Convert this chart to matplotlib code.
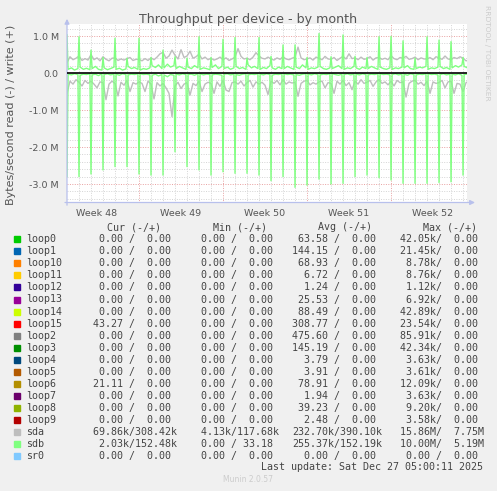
import numpy as np
import matplotlib
matplotlib.use("Agg")
import matplotlib.pyplot as plt
from matplotlib.patches import Rectangle

# sda, 4 samples per day (MB/s), write up / read down
sda_write = [
    0.28, 0.44, 0.36, 0.40,  0.46, 0.34, 0.39, 0.35,  0.50, 0.36, 0.41, 0.33,
    0.44, 0.37, 0.33, 0.40,  0.41, 0.34, 0.38, 0.35,  0.39, 0.42, 0.34, 0.37,
    0.37, 0.33, 0.39, 0.34,  0.41, 0.36, 0.43, 0.52,  0.56, 0.40, 0.46, 0.62,
    0.48, 0.38, 0.63, 0.42,  0.46, 0.59, 0.40, 0.44,  0.51, 0.38, 0.43, 0.36,
    0.40, 0.35, 0.38, 0.43,  0.36, 0.41, 0.34, 0.38,  0.43, 0.66, 0.45, 0.38,
    0.40, 0.36, 0.43, 0.55,  0.46, 0.40, 0.38, 0.43,  0.38, 0.35, 0.41, 0.37,
    0.44, 0.38, 0.36, 0.40,  0.43, 0.70, 0.41, 0.36,  0.38, 0.41, 0.35, 0.43,
    0.40, 0.36, 0.45, 0.38,  0.37, 0.42, 0.34, 0.40,  0.45, 0.38, 0.52, 0.39,
    0.41, 0.36, 0.43, 0.37,  0.39, 0.44, 0.35, 0.41,  0.42, 0.37, 0.40, 0.36,
    0.47, 0.39, 0.36, 0.42,  0.40, 0.45, 0.37, 0.39,  0.43, 0.36, 0.41, 0.38,
    0.38, 0.42, 0.36, 0.44,  0.41, 0.37, 0.46, 0.38,  0.36, 0.42, 0.39, 0.44,
    0.40, 0.33, 0.35, 0.36,
]
sda_read = [
    0.55, 0.22, 0.30, 0.18,  0.25, 0.35, 0.20, 0.28,  0.22, 0.30, 0.40, 0.24,
    0.26, 0.72, 0.30, 0.22,  0.28, 0.62, 0.25, 0.33,  0.20, 0.50, 0.26, 0.30,
    0.24, 0.28, 0.50, 0.22,  0.30, 0.70, 0.26, 0.35,  0.28, 0.40, 0.55, 1.18,
    0.35, 0.25, 0.42, 0.30,  0.26, 0.60, 0.28, 0.34,  0.22, 0.50, 0.30, 0.25,
    0.28, 0.55, 0.24, 0.36,  0.20, 0.46, 0.50, 0.26,  0.24, 0.30, 0.22, 0.35,
    0.26, 0.20, 0.38, 0.24,  0.30, 0.25, 0.33, 0.58,  0.22, 0.28, 0.20, 0.32,
    0.18, 0.30, 0.24, 0.27,  0.25, 0.63, 0.28, 0.22,  0.20, 0.32, 0.26, 0.30,
    0.24, 0.22, 0.40, 0.26,  0.28, 0.55, 0.22, 0.30,  0.20, 0.34, 0.26, 0.45,
    0.22, 0.30, 0.18, 0.28,  0.25, 0.20, 0.36, 0.24,  0.18, 0.28, 0.24, 0.32,
    0.22, 0.35, 0.20, 0.26,  0.24, 0.65, 0.28, 0.22,  0.20, 0.30, 0.25, 0.34,
    0.22, 0.55, 0.24, 0.28,  0.26, 0.20, 0.40, 0.24,  0.22, 0.55, 0.28, 0.30,
    0.50, 0.26, 0.22, 0.25,
]

# sdb: one daily spike plus 4 quieter samples per day
sdb_spike_write = [1.03, 0.98, 0.62, 0.42, 0.94, 0.40, 0.94, 0.42, 0.62, 0.44,
                   0.40, 0.98, 0.42, 0.91, 0.96, 0.40, 0.96, 0.45, 0.76, 0.76,
                   0.42, 1.07, 0.44, 1.03, 0.45, 0.42, 0.98, 0.99, 0.87, 0.40,
                   0.98, 0.89, 0.85, 0.42]
sdb_spike_read = [2.80, 2.80, 2.73, 2.62, 2.53, 2.53, 2.73, 2.76, 2.76, 2.13,
                  2.53, 2.62, 2.76, 2.67, 2.71, 2.71, 2.76, 2.91, 2.80, 3.09,
                  3.03, 2.87, 3.00, 2.98, 2.80, 2.76, 2.83, 2.89, 2.98, 2.98,
                  2.98, 2.96, 2.94, 2.76]
sdb_write = [
    0.10, 0.14, 0.08, 0.12,  0.16, 0.10, 0.13, 0.09,  0.12, 0.18, 0.10, 0.08,
    0.14, 0.09, 0.12, 0.16,  0.10, 0.13, 0.08, 0.11,  0.18, 0.12, 0.15, 0.10,
    0.08, 0.12, 0.10, 0.14,  0.20, 0.15, 0.22, 0.12,  0.14, 0.24, 0.16, 0.20,
    0.12, 0.18, 0.14, 0.10,  0.16, 0.12, 0.20, 0.14,  0.10, 0.14, 0.12, 0.09,
    0.15, 0.22, 0.12, 0.18,  0.12, 0.16, 0.10, 0.14,  0.18, 0.12, 0.15, 0.10,
    0.22, 0.14, 0.18, 0.12,  0.10, 0.15, 0.12, 0.20,  0.14, 0.10, 0.16, 0.12,
    0.12, 0.18, 0.14, 0.10,  0.16, 0.12, 0.22, 0.14,  0.10, 0.14, 0.12, 0.16,
    0.18, 0.12, 0.10, 0.14,  0.12, 0.16, 0.20, 0.12,  0.10, 0.14, 0.12, 0.18,
    0.14, 0.10, 0.16, 0.12,  0.12, 0.18, 0.14, 0.10,  0.16, 0.12, 0.10, 0.14,
    0.10, 0.14, 0.12, 0.16,  0.14, 0.20, 0.12, 0.10,  0.12, 0.16, 0.14, 0.18,
    0.10, 0.14, 0.12, 0.16,  0.18, 0.12, 0.15, 0.10,  0.14, 0.20, 0.16, 0.22,
    0.18, 0.14, 0.12, 0.16,
]
sdb_read = [
    0.03, 0.05, 0.02, 0.04,  0.06, 0.03, 0.04, 0.02,  0.05, 0.03, 0.07, 0.02,
    0.04, 0.02, 0.05, 0.03,  0.03, 0.06, 0.02, 0.04,  0.05, 0.03, 0.04, 0.02,
    0.02, 0.04, 0.03, 0.05,  0.06, 0.03, 0.08, 0.04,  0.05, 0.10, 0.04, 0.06,
    0.03, 0.05, 0.02, 0.04,  0.04, 0.03, 0.06, 0.02,  0.02, 0.05, 0.03, 0.04,
    0.05, 0.03, 0.04, 0.06,  0.03, 0.02, 0.05, 0.03,  0.04, 0.06, 0.03, 0.02,
    0.05, 0.03, 0.04, 0.02,  0.03, 0.05, 0.02, 0.04,  0.06, 0.03, 0.04, 0.02,
    0.02, 0.04, 0.03, 0.05,  0.04, 0.06, 0.03, 0.02,  0.03, 0.05, 0.02, 0.04,
    0.05, 0.03, 0.04, 0.02,  0.02, 0.04, 0.06, 0.03,  0.04, 0.02, 0.05, 0.03,
    0.03, 0.05, 0.02, 0.04,  0.05, 0.03, 0.04, 0.02,  0.02, 0.04, 0.03, 0.05,
    0.04, 0.02, 0.05, 0.03,  0.03, 0.06, 0.02, 0.04,  0.05, 0.03, 0.04, 0.02,
    0.02, 0.04, 0.03, 0.05,  0.04, 0.02, 0.05, 0.03,  0.03, 0.05, 0.02, 0.06,
    0.04, 0.03, 0.02, 0.04,
]

week_labels = ["Week 48", "Week 49", "Week 50", "Week 51", "Week 52"]
week_starts = [6, 13, 20, 27]
y_ticks = [1.0, 0.0, -1.0, -2.0, -3.0]
y_ticklabels = ["1.0 M", "0.0", "-1.0 M", "-2.0 M", "-3.0 M"]

names = ["loop0", "loop1", "loop10", "loop11", "loop12", "loop13", "loop14",
         "loop15", "loop2", "loop3", "loop4", "loop5", "loop6", "loop7",
         "loop8", "loop9", "sda", "sdb", "sr0"]
colors = ["#00CC00", "#0066B3", "#FF8000", "#FFCC00", "#330099", "#990099",
          "#CCFF00", "#FF0000", "#808080", "#008F00", "#00487D", "#B35A00",
          "#B38F00", "#6B006B", "#8FB300", "#B30000", "#BEBEBE", "#80FF80",
          "#80C9FF"]
zero = "  0.00 /  0.00 "
cur_vals = [zero] * 7 + [" 43.27 /  0.00 "] + [zero] * 4 + [" 21.11 /  0.00 "] + \
    [zero] * 3 + [" 69.86k/308.42k", "  2.03k/152.48k", zero]
min_vals = [zero] * 16 + ["  4.13k/117.68k", "  0.00 / 33.18 ", zero]
avg_vals = [" 63.58 /  0.00 ", "144.15 /  0.00 ", " 68.93 /  0.00 ",
            "  6.72 /  0.00 ", "  1.24 /  0.00 ", " 25.53 /  0.00 ",
            " 88.49 /  0.00 ", "308.77 /  0.00 ", "475.60 /  0.00 ",
            "145.19 /  0.00 ", "  3.79 /  0.00 ", "  3.91 /  0.00 ",
            " 78.91 /  0.00 ", "  1.94 /  0.00 ", " 39.23 /  0.00 ",
            "  2.48 /  0.00 ", "232.70k/390.10k", "255.37k/152.19k", zero]
max_vals = [" 42.05k/  0.00 ", " 21.45k/  0.00 ", "  8.78k/  0.00 ",
            "  8.76k/  0.00 ", "  1.12k/  0.00 ", "  6.92k/  0.00 ",
            " 42.89k/  0.00 ", " 23.54k/  0.00 ", " 85.91k/  0.00 ",
            " 42.34k/  0.00 ", "  3.63k/  0.00 ", "  3.61k/  0.00 ",
            " 12.09k/  0.00 ", "  3.63k/  0.00 ", "  9.20k/  0.00 ",
            "  3.58k/  0.00 ", " 15.86M/  7.75M", " 10.00M/  5.19M", zero]

W, H = 497, 491


def fx(x):
    return x / W


def fy(y):
    return 1 - y / H


fig = plt.figure(figsize=(W / 100, H / 100), dpi=100, facecolor="#F0F0F0")
ax = fig.add_axes([fx(67), fy(202.5), 400 / W, 178.3 / H])
ax.set_facecolor("white")
ax.set_xlim(0, 33.33)
ax.set_ylim(-3.5, 1.32)

# grid
dot = (0, (1, 1.5))
for d in range(1, 34):
    if d in week_starts:
        ax.axvline(d, color="#E8A0A0", lw=0.7, ls=dot, zorder=1)
    else:
        ax.axvline(d, color="#D4D4D4", lw=0.7, ls=dot, zorder=1)
for k in range(-17, 7):
    v = k * 0.2
    if k % 5 == 0:
        if k != 0:
            ax.axhline(v, color="#E8A0A0", lw=0.7, ls=dot, zorder=1)
    else:
        ax.axhline(v, color="#D4D4D4", lw=0.7, ls=dot, zorder=1)

# sda
t_sda = np.arange(len(sda_write)) * 0.25
ax.plot(t_sda, sda_write, color="#BEBEBE", lw=1.0, zorder=2)
ax.plot(t_sda, -np.array(sda_read), color="#BEBEBE", lw=1.0, zorder=2)

# sdb
n_days = len(sdb_spike_write)
t_sdb = (np.arange(n_days)[:, None] + np.array([0.0, 0.09, 0.37, 0.62, 0.91])).ravel()
w = np.hstack([np.array(sdb_spike_write)[:, None],
               np.array(sdb_write).reshape(n_days, 4)]).ravel()
r = np.hstack([np.array(sdb_spike_read)[:, None],
               np.array(sdb_read).reshape(n_days, 4)]).ravel()
ax.plot(t_sdb, w, color="#80FF80", lw=1.0, zorder=3)
ax.plot(t_sdb, -r, color="#80FF80", lw=1.0, zorder=3)

ax.axhline(0, color="black", lw=1.2, zorder=4)

# axes
for s in ax.spines.values():
    s.set_visible(False)
ax.tick_params(length=0, labelsize=6.8, labelcolor="#555555")
ax.set_yticks(y_ticks)
ax.set_yticklabels(y_ticklabels)
ax.tick_params(axis="y", pad=6)
ax.set_xticks([w0 - 3.5 for w0 in week_starts] + [30.5])
ax.set_xticklabels(week_labels)
ax.tick_params(axis="x", pad=5)
arrow = dict(arrowstyle="-|>", color="#B8C0EC", lw=0.9, mutation_scale=7,
             shrinkA=0, shrinkB=0)
ax.annotate("", xy=(0, 1.03), xytext=(0, -0.015), xycoords="axes fraction",
            arrowprops=arrow, annotation_clip=False)
ax.annotate("", xy=(1.02, 0), xytext=(-0.005, 0), xycoords="axes fraction",
            arrowprops=arrow, annotation_clip=False)

# texts
fig.text(fx(248.5), fy(19), "Throughput per device - by month", ha="center",
         va="center", fontsize=9.1, color="#555555")
fig.text(fx(11), fy(115), "Bytes/second read (-) / write (+)", rotation=90,
         ha="center", va="center", fontsize=8, color="#555555")
fig.text(fx(487), fy(53), "RRDTOOL / TOBI OETIKER", rotation=270,
         ha="center", va="center", fontsize=5.4, color="#CCCCCC")
fig.text(fx(248), fy(479), "Munin 2.0.57", ha="center", va="center",
         fontsize=5.5, color="#CCCCCC")

mono = dict(family="DejaVu Sans Mono", fontsize=7.2, color="#444444", va="center")
header_x = [107, 213, 318, 423]
for x, h in zip(header_x, ["Cur (-/+)", "Min (-/+)", "Avg (-/+)", "Max (-/+)"]):
    fig.text(fx(x), fy(227.5), h, **mono)

col_x = [87, 189, 292, 394]
for i, name in enumerate(names):
    y = 239.3 + 12.04 * i
    fig.patches.append(Rectangle((fx(14), fy(y + 3)), 6 / W, 6 / H,
                                 transform=fig.transFigure, color=colors[i]))
    fig.text(fx(26), fy(y), name, **mono)
    for x, vals in zip(col_x, [cur_vals, min_vals, avg_vals, max_vals]):
        fig.text(fx(x), fy(y), vals[i], **mono)

fig.text(fx(483), fy(467.5), "Last update: Sat Dec 27 05:00:11 2025",
         ha="right", **mono)

fig.savefig("out.png", dpi=100, facecolor=fig.get_facecolor())
